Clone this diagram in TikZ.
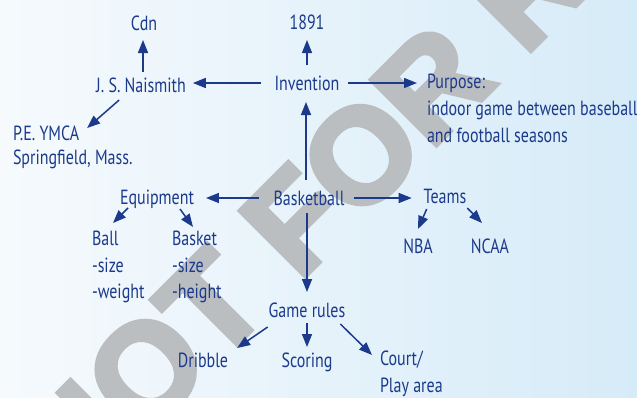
\documentclass[tikz,border=0pt]{standalone}
\usepackage{fontspec}
\setmainfont{PT Sans}[FakeStretch=0.78]
\newfontfamily\wmfont{Liberation Sans Bold}[FakeBold=4]
\usetikzlibrary{arrows.meta}
\definecolor{ink}{RGB}{27,58,140}
\definecolor{wmgray}{RGB}{187,190,192}
\definecolor{skyA}{RGB}{246,250,253}
\definecolor{skyB}{RGB}{214,235,248}
\begin{document}
\begin{tikzpicture}[x=1pt,y=-1pt,
  lbl/.style={text=ink, font=\fontsize{20.5}{24}\selectfont, inner sep=0pt, outer sep=0pt},
  link/.style={draw=ink, line width=1.5pt, -{Triangle[length=13pt,width=10pt]}}]
% page and soft sky-blue backdrop
\fill[left color=skyA, right color=skyB] (0,0) rectangle (637,397);
\useasboundingbox (0,0) rectangle (637,397);
% diagonal stamp behind the map
\begin{scope}
  \clip (0,0) rectangle (637,397);
  \node[rotate=45, text=wmgray, inner sep=0pt,
        font=\wmfont\fontsize{133.5}{133.5}\selectfont] (stamp) at (300.7,215.3) {NOT FOR R};
\end{scope}
% concept nodes (placed by baseline)
\node[lbl, anchor=base] (cdn) at (144,30) {Cdn};
\node[lbl, anchor=base] (year) at (307,29) {1891};
\node[lbl, anchor=base] (naismith) at (141,92) {J. S. Naismith};
\node[lbl, anchor=base] (invention) at (307,90) {Invention};
\node[lbl, anchor=base west] (purpose) at (427,88) {Purpose:};
\node[lbl, anchor=base west] (purpose2) at (427,115) {indoor game between baseball};
\node[lbl, anchor=base west] (purpose3) at (427,142) {and football seasons};
\node[lbl, anchor=base west] (pe) at (13,140) {P.E. YMCA};
\node[lbl, anchor=base west] (springfield) at (13,164) {Springfield, Mass.};
\node[lbl, anchor=base] (basketball) at (309,205) {Basketball};
\node[lbl, anchor=base] (equipment) at (157,204) {Equipment};
\node[lbl, anchor=base] (teams) at (445,203) {Teams};
\node[lbl, anchor=base] (nba) at (418,253) {NBA};
\node[lbl, anchor=base] (ncaa) at (490,253) {NCAA};
\node[lbl, anchor=base west] (ball) at (92,245) {Ball};
\node[lbl, anchor=base west] (ballsize) at (92,272) {-size};
\node[lbl, anchor=base west] (ballweight) at (92,298) {-weight};
\node[lbl, anchor=base west] (basket) at (172,245) {Basket};
\node[lbl, anchor=base west] (basketsize) at (172,272) {-size};
\node[lbl, anchor=base west] (basketheight) at (172,298) {-height};
\node[lbl, anchor=base] (rules) at (307,317) {Game rules};
\node[lbl, anchor=base] (dribble) at (203,367) {Dribble};
\node[lbl, anchor=base] (scoring) at (307,367) {Scoring};
\node[lbl, anchor=base west] (court) at (380,365) {Court/};
\node[lbl, anchor=base west] (playarea) at (380,392) {Play area};
% connectors
\draw[link] ([shift={(2,-20)}]naismith.base) -- ([shift={(-1,10)}]cdn.base);
\draw[link] ([shift={(-14,-7)}]invention.base west) -- ([shift={(7,-9)}]naismith.base east);
\draw[link] ([shift={(0,-25)}]invention.base) -- ([shift={(0,11)}]year.base);
\draw[link] ([shift={(9,-7)}]invention.base east) -- ([shift={(-10,-5)}]purpose.base west);
\draw[link] ([shift={(23,8)}]naismith.base west) -- ([shift={(8,-12)}]pe.base east);
\draw[link] ([shift={(-3,-25)}]basketball.base) -- ([shift={(-1,12)}]invention.base);
\draw[link] ([shift={(-15,-7)}]basketball.base west) -- ([shift={(12,-6)}]equipment.base east);
\draw[link] ([shift={(10,-7)}]basketball.base east) -- ([shift={(-12,-5)}]teams.base west);
\draw[link] ([shift={(3,6)}]teams.base west) -- ([shift={(0,-24)}]nba.base);
\draw[link] ([shift={(1,5)}]teams.base east) -- ([shift={(-8,-30)}]ncaa.base);
\draw[link] ([shift={(8,4)}]equipment.base west) -- ([shift={(21,-22)}]ball.base west);
\draw[link] ([shift={(-14,5)}]equipment.base east) -- ([shift={(21,-18)}]basket.base west);
\draw[link] ([shift={(-2,8)}]basketball.base) -- ([shift={(0,-25)}]rules.base);
\draw[link] ([shift={(-1,10)}]rules.base west) -- ([shift={(9,-19)}]dribble.base east);
\draw[link] ([shift={(0,6)}]rules.base) -- ([shift={(0,-20)}]scoring.base);
\draw[link] ([shift={(-5,7)}]rules.base east) -- ([shift={(-8,-10)}]court.base west);
\end{tikzpicture}
\end{document}
